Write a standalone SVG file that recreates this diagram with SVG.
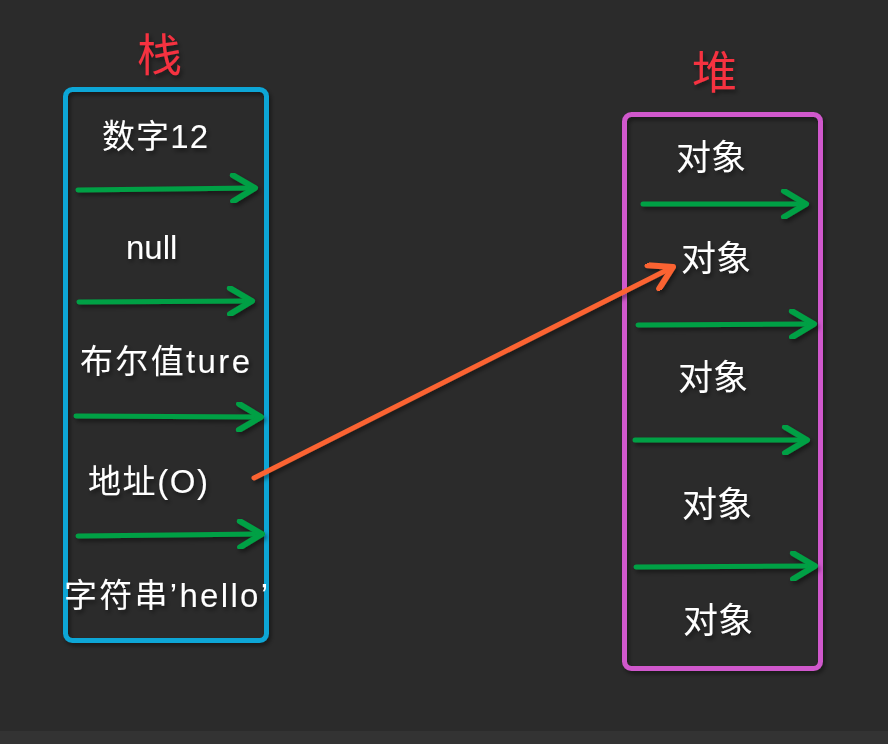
<svg xmlns="http://www.w3.org/2000/svg" width="888" height="744" viewBox="0 0 888 744">
<defs>
<filter id="sh" x="-20%" y="-20%" width="140%" height="140%">
<feDropShadow dx="2" dy="3" stdDeviation="2" flood-color="#000" flood-opacity="0.45"/>
</filter>
<marker id="gh" markerUnits="userSpaceOnUse" viewBox="0 0 30 30" refX="26" refY="15" markerWidth="30" markerHeight="30" orient="auto">
<path d="M4 2 L26 15 L4 28" fill="none" stroke="#05a044" stroke-width="6" stroke-linecap="round" stroke-linejoin="round"/>
</marker>
<marker id="oh" markerUnits="userSpaceOnUse" viewBox="0 0 30 30" refX="26" refY="15" markerWidth="30" markerHeight="30" orient="auto">
<path d="M4 2 L26 15 L4 28" fill="none" stroke="#fb6331" stroke-width="6" stroke-linecap="round" stroke-linejoin="round"/>
</marker>
</defs>
<style>
.t{font-family:"Liberation Sans","Noto Sans CJK SC",sans-serif;font-size:33px;fill:#ffffff;}
.c{font-size:35px;}
.h{font-family:"Noto Sans CJK SC",sans-serif;font-size:45px;fill:#f5303f;}
.g{stroke:#05a044;stroke-width:5;stroke-linecap:round;fill:none;marker-end:url(#gh);}
.o{stroke:#fb6331;stroke-width:5;stroke-linecap:round;fill:none;marker-end:url(#oh);}
.box{fill:none;stroke-width:5;}
</style>
<rect width="888" height="744" fill="#2b2b2b"/>
<rect y="731" width="888" height="13" fill="#333333"/>
<g id="stack" filter="url(#sh)">
<text class="h" x="137" y="72">栈</text>
<rect class="box" x="65.5" y="89.5" width="201" height="551" rx="7" stroke="#0aa6d6"/>
<text class="t" x="102" y="148" textLength="106">数字12</text>
<text class="t" x="126" y="259">null</text>
<text class="t" x="80" y="373" textLength="170">布尔值ture</text>
<text class="t" x="88" y="493" textLength="120">地址(O)</text>
<text class="t" x="64" y="607" textLength="204">字符串’hello’</text>
</g>
<g id="heap" filter="url(#sh)">
<text class="h" x="692" y="89">堆</text>
<rect class="box" x="624.5" y="114.5" width="196" height="554" rx="7" stroke="#d058cc"/>
<text class="t c" x="676" y="170">对象</text>
<text class="t c" x="681" y="271">对象</text>
<text class="t c" x="678" y="390">对象</text>
<text class="t c" x="682" y="517">对象</text>
<text class="t c" x="683" y="633">对象</text>
</g>
<g id="connectors" filter="url(#sh)">
<line class="g" x1="78" y1="190" x2="255" y2="188"/>
<line class="g" x1="79" y1="302" x2="252" y2="301"/>
<line class="g" x1="76" y1="416" x2="261" y2="417"/>
<line class="g" x1="78" y1="536" x2="262" y2="534"/>
<line class="g" x1="643" y1="204" x2="806" y2="204"/>
<line class="g" x1="638" y1="325" x2="814" y2="324"/>
<line class="g" x1="635" y1="440" x2="807" y2="440"/>
<line class="g" x1="636" y1="567" x2="815" y2="566"/>
<line class="o" x1="254" y1="478" x2="673" y2="267"/>
</g>
</svg>
